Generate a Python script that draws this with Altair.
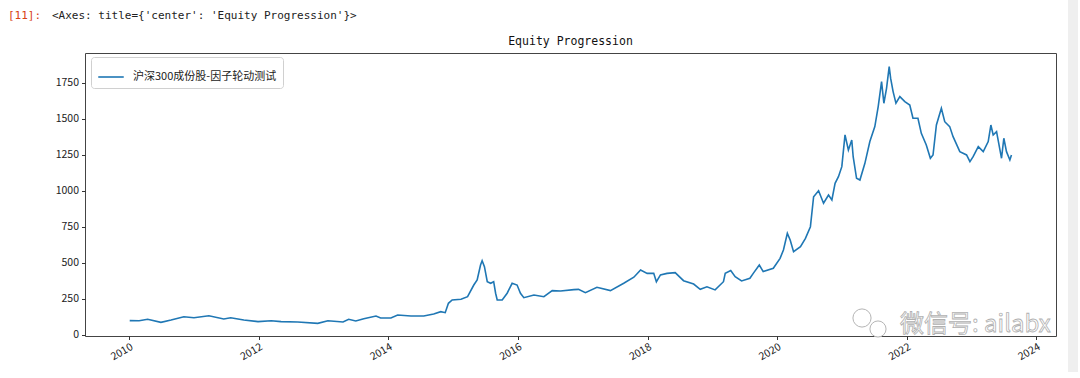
import altair as alt
import pandas as pd

series_name = "沪深300成份股-因子轮动测试"

dates = [
    "2010-01-04", "2010-02-26", "2010-04-15", "2010-06-29", "2010-08-25", "2010-11-05",
    "2011-01-01", "2011-03-26", "2011-06-18", "2011-07-27", "2011-10-09", "2011-12-28",
    "2012-03-11", "2012-05-06", "2012-08-08", "2012-11-29", "2013-01-25", "2013-04-20",
    "2013-05-22", "2013-07-01", "2013-08-15", "2013-10-23", "2013-11-18", "2014-01-15",
    "2014-02-22", "2014-05-08", "2014-07-19", "2014-09-13", "2014-10-23", "2014-11-17",
    "2014-12-05", "2014-12-26", "2015-02-14", "2015-03-23", "2015-04-27", "2015-05-16",
    "2015-06-04", "2015-06-13", "2015-06-26", "2015-07-12", "2015-07-31", "2015-08-17",
    "2015-08-28", "2015-09-06", "2015-10-04", "2015-11-01", "2015-11-29", "2015-12-27",
    "2016-01-15", "2016-02-03", "2016-03-31", "2016-05-26", "2016-07-12", "2016-08-28",
    "2016-11-11", "2016-12-07", "2017-01-15", "2017-03-21", "2017-06-05", "2017-08-19",
    "2017-10-15", "2017-11-22", "2017-12-29", "2018-02-04", "2018-02-19", "2018-03-14",
    "2018-04-20", "2018-06-05", "2018-07-22", "2018-09-17", "2018-10-24", "2018-12-01",
    "2019-01-16", "2019-03-04", "2019-03-14", "2019-04-14", "2019-05-09", "2019-06-14",
    "2019-07-31", "2019-08-19", "2019-09-22", "2019-10-14", "2019-12-10", "2020-01-17",
    "2020-02-05", "2020-02-27", "2020-03-14", "2020-04-02", "2020-05-11", "2020-06-08",
    "2020-07-06", "2020-07-24", "2020-08-21", "2020-09-18", "2020-10-16", "2020-11-04",
    "2020-11-22", "2020-12-11", "2020-12-30", "2021-01-17", "2021-02-05", "2021-02-24",
    "2021-03-04", "2021-03-23", "2021-04-11", "2021-05-09", "2021-06-06", "2021-07-04",
    "2021-07-23", "2021-08-11", "2021-08-24", "2021-09-08", "2021-09-23", "2021-10-01",
    "2021-10-15", "2021-10-31", "2021-11-22", "2021-12-20", "2022-01-17", "2022-02-04",
    "2022-03-04", "2022-03-23", "2022-04-20", "2022-05-13", "2022-05-28", "2022-06-16",
    "2022-07-14", "2022-08-02", "2022-08-30", "2022-09-18", "2022-10-26", "2022-12-03",
    "2022-12-22", "2023-01-09", "2023-02-07", "2023-03-07", "2023-04-04", "2023-04-19",
    "2023-05-02", "2023-05-21", "2023-06-18", "2023-07-01", "2023-07-16", "2023-08-04",
    "2023-08-13",
]

equity = [
    100, 99, 109, 88, 104, 127,
    120, 134, 111, 120, 104, 93,
    99, 93, 90, 81, 99, 90,
    109, 97, 113, 132, 118, 118,
    139, 132, 132, 146, 162, 155,
    220, 243, 248, 266, 347, 382,
    486, 515, 474, 370, 359, 370,
    290, 243, 243, 290, 359, 347,
    290, 259, 278, 266, 308, 305,
    315, 317, 294, 331, 308, 359,
    401, 451, 428, 428, 370, 417,
    428, 433, 377, 354, 317, 335,
    313, 370, 428, 447, 405, 375,
    394, 428, 486, 440, 463, 532,
    590, 706, 660, 578, 613, 671,
    752, 960, 1002, 915, 972, 938,
    1053, 1099, 1169, 1389, 1285, 1354,
    1238, 1088, 1076, 1192, 1343, 1447,
    1586, 1759, 1609, 1713, 1863, 1783,
    1690, 1609, 1655, 1620, 1597, 1505,
    1505, 1400, 1319, 1227, 1250, 1458,
    1574, 1481, 1447, 1377, 1273, 1250,
    1204, 1238, 1308, 1273, 1343, 1458,
    1389, 1412, 1227, 1366, 1273, 1215,
    1250,
]

y_ticks = [0, 250, 500, 750, 1000, 1250, 1500, 1750]
x_tick_years = [2010, 2012, 2014, 2016, 2018, 2020, 2022, 2024]

header_prompt = "[11]:"
header_text = "<Axes: title={'center': 'Equity Progression'}>"
title_text = "Equity Progression"
watermark = "微信号: ailabx"

df = pd.DataFrame({"date": dates, "equity": equity, "series": series_name})

W, H = 971, 283
PAD_L, PAD_T = 85, 53

line = alt.Chart(df).mark_line(strokeWidth=1.6, clip=True).encode(
    x=alt.X(
        "date:T",
        scale=alt.Scale(domain=[alt.DateTime(year=2009, month=4, date=27),
                                alt.DateTime(year=2024, month=4, date=20)]),
        axis=alt.Axis(
            values=[alt.DateTime(year=y, month=1, date=1) for y in x_tick_years],
            format="%Y", labelAngle=-30, labelAlign="right", labelBaseline="top",
            title=None, grid=False, domain=False, tickSize=3.5, tickColor="#333",
            labelFont="Noto Sans CJK SC", labelFontSize=10.5, labelColor="#222",
            labelPadding=2,
        ),
    ),
    y=alt.Y(
        "equity:Q",
        scale=alt.Scale(domain=[-7, 1958], nice=False, zero=False),
        axis=alt.Axis(
            values=y_ticks, format="d", title=None, grid=False, domain=False,
            tickSize=3.5, tickColor="#333", labelFont="Noto Sans CJK SC",
            labelFontSize=10.5, labelColor="#222", labelPadding=3,
        ),
    ),
    color=alt.Color(
        "series:N",
        scale=alt.Scale(range=["#1f77b4"]),
        legend=alt.Legend(
            title=None, orient="none", legendX=6, legendY=4,
            symbolType="stroke", symbolSize=650, symbolStrokeWidth=1.6,
            labelFont="Noto Sans CJK SC", labelFontSize=11, labelColor="#222",
            labelOffset=8, padding=6, strokeColor="#d0d0d0", fillColor="white",
            cornerRadius=3,
        ),
    ),
)

ann = pd.DataFrame({"k": [0]})

def txt(text, x, y, **kw):
    return alt.Chart(ann).mark_text(text=text, **kw).encode(
        x=alt.value(x), y=alt.value(y)
    )

prompt = txt(header_prompt, 8 - PAD_L, 16 - PAD_T, align="left", baseline="middle",
             font="DejaVu Sans Mono", fontSize=11, color="#d84315")
header = txt(header_text, 52 - PAD_L, 16 - PAD_T, align="left", baseline="middle",
             font="DejaVu Sans Mono", fontSize=11, color="#222")
title = txt(title_text, W / 2, 42 - PAD_T, align="center", baseline="middle",
            font="DejaVu Sans Mono", fontSize=11.5, color="#111")

wm_text = txt(watermark, 900 - PAD_L, 325 - PAD_T, align="left", baseline="middle",
              font="Noto Sans CJK SC", fontSize=24, fill="white", stroke="#b0b0b0",
              strokeWidth=0.8)
wm_big = alt.Chart(ann).mark_point(shape="circle", size=330, filled=True, fill="white",
                                   stroke="#b5b5b5", strokeWidth=1, opacity=1).encode(
    x=alt.value(862 - PAD_L), y=alt.value(318 - PAD_T))
wm_small = alt.Chart(ann).mark_point(shape="circle", size=260, filled=True, fill="white",
                                     stroke="#b5b5b5", strokeWidth=1, opacity=1).encode(
    x=alt.value(878 - PAD_L), y=alt.value(329 - PAD_T))

stripe = alt.Chart(ann).mark_rect(color="#efefef").encode(
    x=alt.value(1068 - PAD_L), x2=alt.value(1078 - PAD_L),
    y=alt.value(0 - PAD_T), y2=alt.value(372 - PAD_T))

chart = alt.layer(
    stripe, line, prompt, header, title, wm_big, wm_small, wm_text
).properties(
    width=W, height=H,
    autosize=alt.AutoSizeParams(type="none"),
    padding={"left": PAD_L, "top": PAD_T, "right": 1080 - PAD_L - W, "bottom": 378 - PAD_T - H},
    background="white",
).configure_view(stroke="#444", strokeWidth=1)

chart.save("out.html", embed_options={"renderer": "svg", "actions": False})
